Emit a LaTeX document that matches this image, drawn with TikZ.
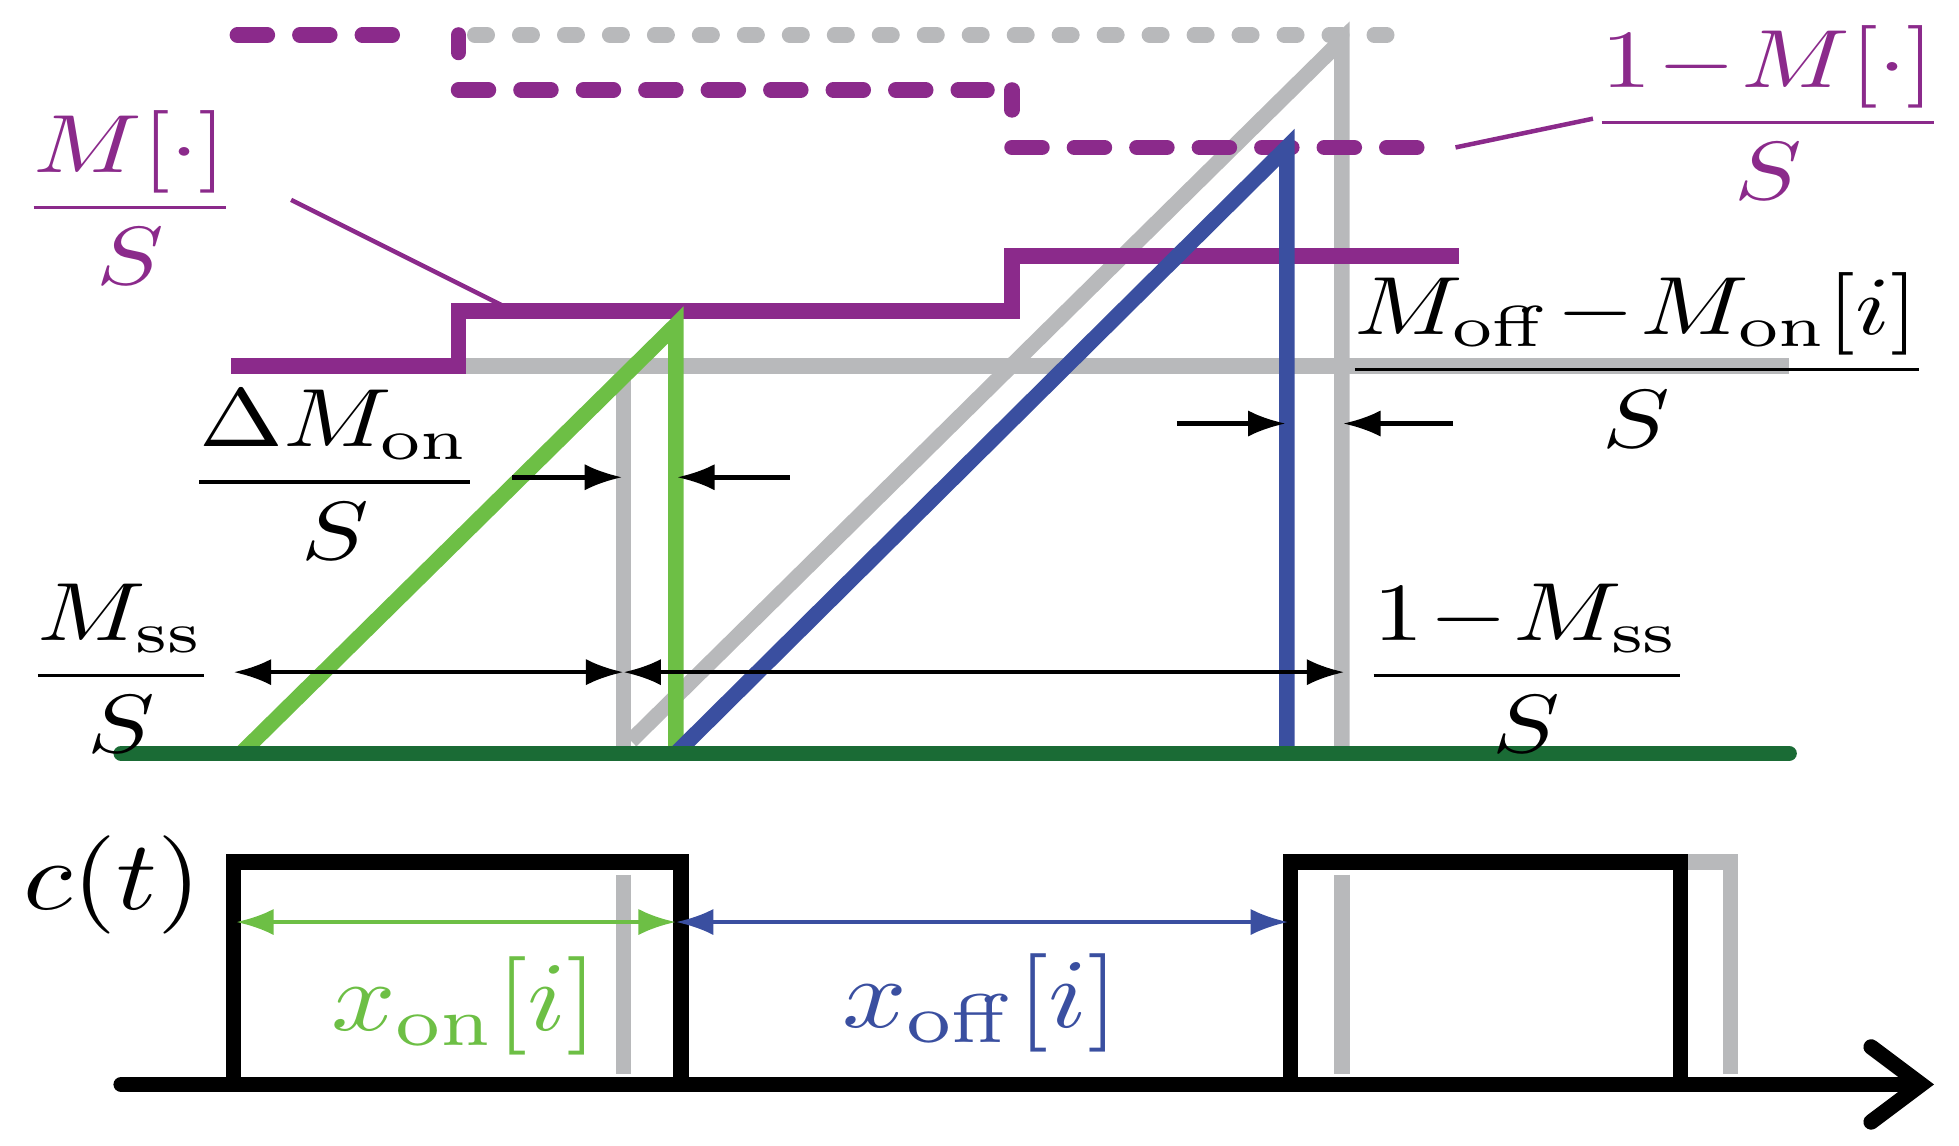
\documentclass[tikz,border=0pt]{standalone}
\usepackage{amsmath}
\usetikzlibrary{arrows.meta}
\definecolor{pur}{HTML}{8B2A8B}
\definecolor{grn}{HTML}{6DBF45}
\definecolor{blu}{HTML}{3A4FA0}
\definecolor{dgr}{HTML}{1A6B35}
\definecolor{gry}{HTML}{B8B9BB}
\begin{document}
\begin{tikzpicture}[x={(0.05cm,0)},y={(0,-0.05cm)},
 thickl/.style={line width=0.62cm},
 thin/.style={line width=0.18cm,-{Latex[length=1.5cm,width=1.05cm]}},
 dthin/.style={line width=0.18cm,{Latex[length=1.5cm,width=1.05cm]}-{Latex[length=1.5cm,width=1.05cm]}},
 lab/.style={font=\fontsize{10}{12}\selectfont,scale=9.4,xscale=1.22},
 big/.style={font=\fontsize{10}{12}\selectfont,scale=11.2,xscale=1.15},
 pdash/.style={thickl,pur,dash pattern=on 1.2cm off 1.3cm,line cap=round}]
\useasboundingbox (0,0) rectangle (1568,917);
% gray
\draw[thickl,gry,line cap=round,dash pattern=on 0.5cm off 1.3cm] (380,28)--(1135,28);
\draw[thickl,gry] (372,293)--(1432,293);
\draw[thickl,gry] (499,293)--(499,603);
\draw[thickl,gry] (505,593)--(1074,32)--(1074,603);
\draw[thickl,gry] (499,700)--(499,860);
\draw[thickl,gry] (1074,700)--(1074,860);
\draw[thickl,gry] (1345,690)--(1385,690)--(1385,860);
% purple
\draw[thickl,pur] (185,293)--(367,293)--(367,249)--(810,249)--(810,205)--(1168,205);
\draw[pdash] (190,28)--(335,28);
\draw[thickl,pur,line cap=round] (367,28)--(367,42);
\draw[pdash] (367,72)--(790,72);
\draw[thickl,pur,line cap=round] (810,72)--(810,88);
\draw[pdash] (810,118)--(1135,118);
\draw[pur,line width=0.18cm] (233,160)--(403,245);
\draw[pur,line width=0.18cm] (1165,118)--(1275,95);
% green/blue
\draw[thickl,grn] (193,603)--(541,260)--(541,603);
\draw[thickl,blu] (541,603)--(1030,118)--(1030,603);
\draw[thickl,dgr,line cap=round] (97,603)--(1432,603);
% arrows
\coordinate (a1) at (410,382); \coordinate (b1) at (498,382);
\coordinate (a2) at (632,382); \coordinate (b2) at (542,382);
\coordinate (a3) at (942,339); \coordinate (b3) at (1029,339);
\coordinate (a4) at (1163,339); \coordinate (b4) at (1075,339);
\draw[thin] (a1)--(b1); \draw[thin] (a2)--(b2);
\draw[thin] (a3)--(b3); \draw[thin] (a4)--(b4);
\coordinate (m1) at (187,538); \coordinate (m2) at (499,538); \coordinate (m3) at (1076,538);
\draw[dthin] (m1)--(m2); \draw[dthin] (m2)--(m3);
% labels
\node[lab,pur] (l1) at (104,158) {$\dfrac{M[\cdot]}{S}$};
\node[lab,pur] (l2) at (1415,90) {$\dfrac{1\!-\!M[\cdot]}{S}$};
\node[lab] (l3) at (1310,288) {$\dfrac{M_{\mathrm{off}}\!-\!M_{\mathrm{on}}[i]}{S}$};
\node[lab] (l4) at (268,380) {$\dfrac{\Delta M_{\mathrm{on}}}{S}$};
\node[lab] (l5) at (97,535) {$\dfrac{M_{\mathrm{ss}}}{S}$};
\node[lab] (l6) at (1222,535) {$\dfrac{1\!-\!M_{\mathrm{ss}}}{S}$};
% lower
\draw[thickl,black] (187,862)--(187,690)--(545,690)--(545,862);
\draw[thickl,black] (1033,862)--(1033,690)--(1345,690)--(1345,862);
\coordinate (x0) at (97,868); \coordinate (x1) at (1548,868);
\draw[thickl,line cap=round,-{Straight Barb[length=2cm,width=3cm,line cap=round]}] (x0)--(x1);
\coordinate (g1) at (189,738); \coordinate (g2) at (541,738); \coordinate (g3) at (1031,738);
\draw[dthin,grn] (g1)--(g2); \draw[dthin,blu] (g2)--(g3);
\node[big] (ct) at (90,708) {$c(t)$};
\node[big,grn] (xon) at (372,805) {$x_{\mathrm{on}}[i]$};
\node[big,blu] (xoff) at (785,803) {$x_{\mathrm{off}}[i]$};
\end{tikzpicture}
\end{document}
